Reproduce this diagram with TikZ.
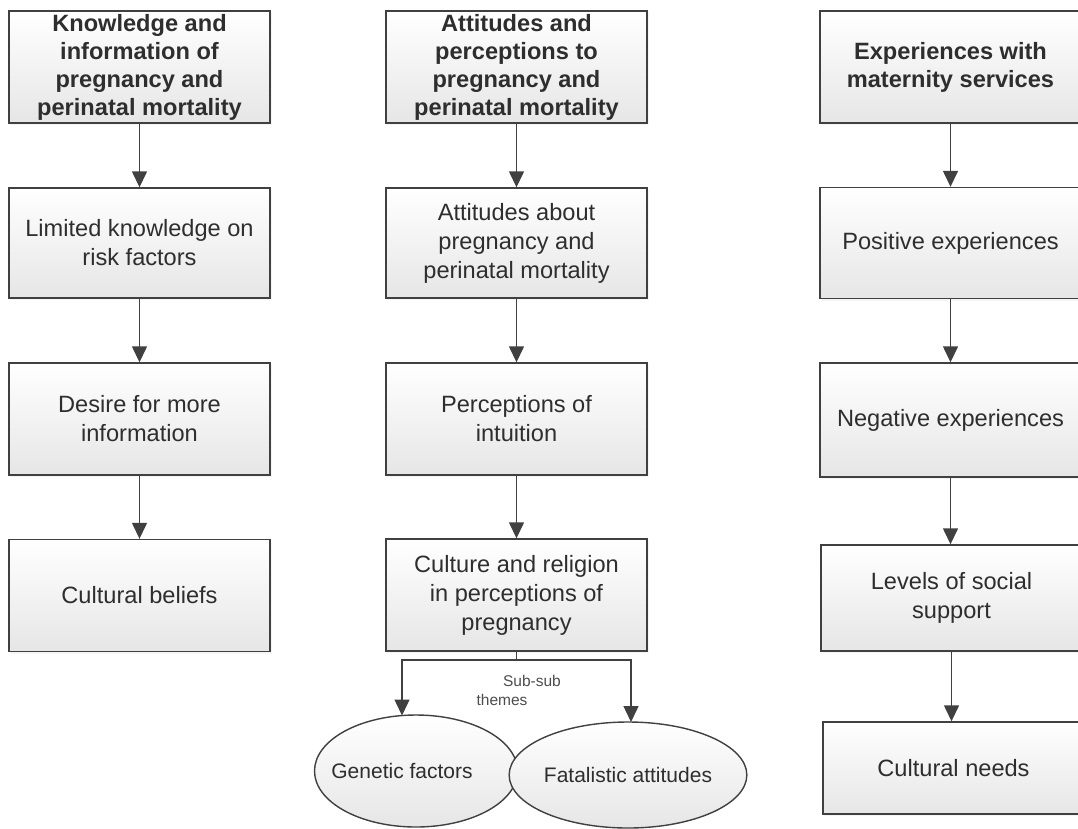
\documentclass[tikz,border=0pt]{standalone}
\usepackage{fontspec}
\setmainfont{Liberation Sans}
\usetikzlibrary{arrows.meta,shapes.geometric,shadows}
\definecolor{edge}{HTML}{404040}
\definecolor{ink}{HTML}{2E2E2E}
\definecolor{boxbottom}{HTML}{E6E6E6}
\tikzset{
  theme/.style={draw=edge, line width=1.4pt, top color=white, bottom color=boxbottom,
    minimum width=261pt, minimum height=112pt, inner sep=0pt, align=center, text=ink,
    font=\fontsize{23.6}{29}\selectfont,
    drop shadow={shadow xshift=2pt, shadow yshift=-2pt, opacity=0.08}},
  heading/.style={theme, font=\fontsize{23.6}{28}\selectfont\bfseries},
  bubble/.style={ellipse, draw=edge, line width=1.4pt, top color=white, bottom color=boxbottom,
    inner sep=0pt, text=ink, font=\fontsize{21}{25}\selectfont},
  bubtext/.style={text=ink, inner sep=0pt, font=\fontsize{21}{25}\selectfont},
  note/.style={text=ink!85, inner sep=0pt, font=\fontsize{15.5}{18}\selectfont},
  flow/.style={draw=edge, line width=1.4pt, -{Triangle[length=16pt,width=15pt]}},
}
\begin{document}
\begin{tikzpicture}[x=1pt,y=-1pt]
\useasboundingbox (0,0) rectangle (1078,828);
\fill[white] (0,0) rectangle (1078,828);

% column 1: knowledge and information
\node[heading] (k0) at (139.5,67) {Knowledge and\\information of\\pregnancy and\\perinatal mortality};
\node[theme, minimum height=110pt] (k1) at (139.5,243) {Limited knowledge on\\risk factors};
\node[theme] (k2) at (139.5,419) {Desire for more\\information};
\node[theme] (k3) at (139.5,595.5) {Cultural beliefs};

% column 2: attitudes and perceptions
\node[heading] (a0) at (516.5,67) {Attitudes and\\perceptions to\\pregnancy and\\perinatal mortality};
\node[theme, minimum height=110pt] (a1) at (516.5,243) {Attitudes about\\pregnancy and\\perinatal mortality};
\node[theme] (a2) at (516.5,419) {Perceptions of\\intuition};
\node[theme] (a3) at (516.5,595) {Culture and religion\\in perceptions of\\pregnancy};

% column 3: maternity services
\node[heading] (e0) at (950.5,67) {Experiences with\\maternity services};
\node[theme, minimum height=111pt] (e1) at (950.5,243) {Positive experiences};
\node[theme, minimum height=114pt] (e2) at (950.5,420) {Negative experiences};
\node[theme, minimum height=106pt] (e3) at (951.5,598) {Levels of social\\support};
\node[theme, minimum height=92pt] (e4) at (953.5,768) {Cultural needs};

% sub-sub themes
\node[bubble, minimum width=203pt, minimum height=112pt] (g) at (416,771) {};
\node[bubtext] (gt) at (402,771) {Genetic factors};
\node[bubble, minimum width=220pt, minimum height=106pt] (f) at (628,775) {Fatalistic attitudes};

\node[note] (s1) at (532,681) {Sub-sub};
\node[note] (s2) at (502,700) {themes};

% connectors
\draw[flow] (k0) -- (k1);
\draw[flow] (k1) -- (k2);
\draw[flow] (k2) -- (k3);
\draw[flow] (a0) -- (a1);
\draw[flow] (a1) -- (a2);
\draw[flow] (a2) -- (a3);
\draw[flow] (e0) -- (e1);
\draw[flow] (e1) -- (e2);
\draw[flow] (e2.south) -- (e2.south |- e3.north);
\draw[flow] (e3.south) -- (e3.south |- e4.north);

\coordinate (split) at (516.5,660);
\coordinate (gin) at (402,715.5);
\coordinate (fin) at (631,722);
\draw[flow] (a3.south) -- (split) -| (gin);
\draw[flow] (split) -| (fin);
\end{tikzpicture}
\end{document}
